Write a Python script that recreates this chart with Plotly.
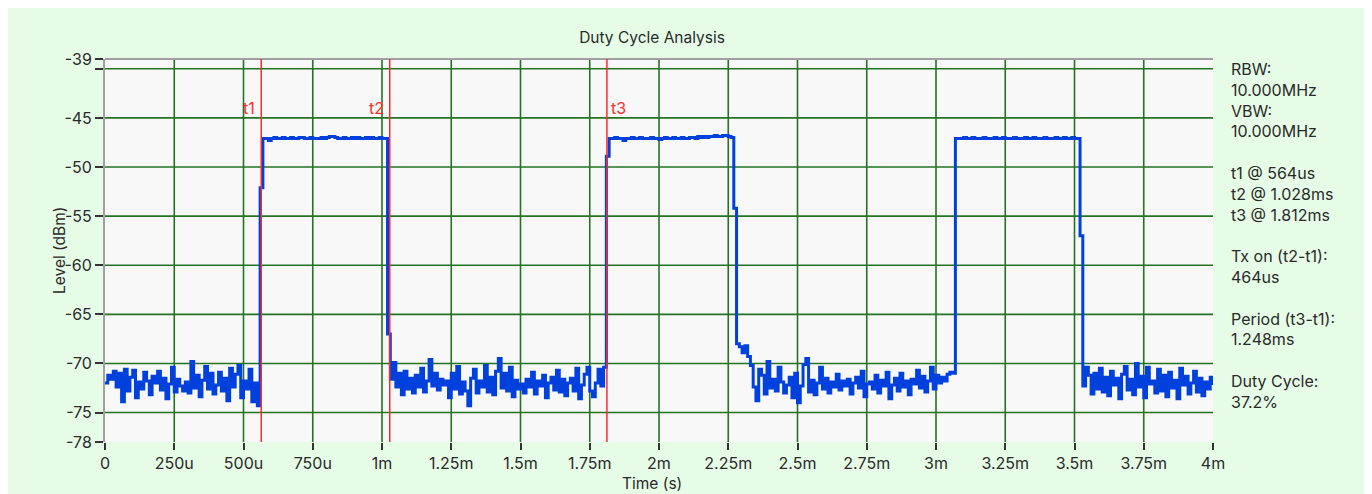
import numpy as np
import plotly.graph_objects as go

# sample spacing of the sweep, seconds
sample_step = 10e-6

# trace levels in dBm, split into the off / on parts of the sweep
noise_1 = [
    -72.0, -71.2, -71.6, -70.8, -72.4, -71.0, -73.9, -70.6, -72.8, -71.4,
    -70.7, -73.5, -71.9, -72.6, -70.9, -71.8, -73.2, -71.3, -72.0, -70.8,
    -72.7, -71.5, -73.6, -72.1, -70.4, -72.9, -71.6, -72.3, -72.8, -71.9,
    -73.0, -69.8, -72.5, -71.2, -73.4, -71.7, -70.3, -72.6, -71.0, -73.1,
    -72.2, -70.9, -72.8, -71.5, -73.8, -70.5, -72.4, -71.1, -70.2, -73.5,
    -71.8, -72.6, -70.6, -73.9, -72.0, -74.3,
]
pulse_1 = [
    -52.1, -47.1, -47.1, -47.3, -47.1, -47.0, -47.1, -47.1, -47.0, -47.1,
    -47.1, -47.0, -47.1, -47.1, -47.0, -47.0, -47.1, -47.1, -47.0, -47.1,
    -47.1, -47.1, -47.0, -47.1, -47.0, -46.9, -46.9, -47.0, -47.1, -47.1,
    -47.0, -47.1, -47.1, -47.0, -47.1, -47.0, -47.1, -47.1, -47.0, -47.1,
    -47.0, -47.1, -47.1, -47.0, -47.1, -47.1,
]
noise_2 = [
    -67.0, -71.6, -69.9, -72.4, -71.0, -73.2, -70.8, -72.6, -71.5, -73.0,
    -71.2, -72.4, -70.5, -72.9, -71.8, -69.6, -72.3, -71.0, -72.7, -71.6,
    -72.2, -71.8, -73.5, -71.0, -72.6, -70.3, -73.1, -71.9, -72.8, -74.3,
    -71.5, -70.6, -73.0, -71.8, -72.4, -70.2, -72.9, -71.4, -73.2, -70.8,
    -69.5, -72.5, -71.0, -72.8, -70.4, -73.4, -71.7, -72.6, -72.1, -73.0,
    -71.6, -72.4, -70.9, -73.1, -71.8, -72.3, -71.2, -73.5, -72.0, -71.4,
    -72.7, -70.7, -72.9, -71.6, -73.3, -72.0, -71.5, -72.8, -70.5, -73.6,
    -72.2, -71.1, -70.4, -72.8, -73.4, -72.0, -70.6, -72.3, -70.4,
]
pulse_2 = [
    -48.9, -47.1, -47.1, -47.0, -47.1, -47.1, -47.3, -47.1, -47.1, -47.0,
    -47.1, -47.1, -47.0, -47.1, -47.1, -47.1, -47.0, -47.1, -47.1, -47.2,
    -47.1, -47.0, -47.1, -47.1, -47.0, -47.1, -47.1, -47.0, -47.1, -47.1,
    -47.0, -47.0, -47.1, -46.9, -47.0, -46.9, -47.0, -46.9, -46.9, -46.8,
    -46.9, -46.9, -46.8, -46.8, -46.9, -47.0,
]
noise_3 = [
    -54.2, -68.0, -68.3, -68.9, -68.2, -69.3, -70.2, -72.4, -73.8, -70.6,
    -71.2, -73.1, -69.8, -72.5, -71.6, -72.8, -70.4, -71.9, -73.0, -72.2,
    -71.4, -73.5, -71.0, -74.0, -72.3, -70.1, -69.5, -72.9, -71.7, -73.2,
    -72.0, -70.4, -72.6, -71.5, -73.0, -71.9, -72.4, -71.1, -72.7, -71.8,
    -72.3, -71.6, -73.1, -72.0, -71.4, -72.5, -70.8, -73.4, -72.1, -71.9,
    -72.6, -71.2, -73.0, -71.7, -72.3, -70.9, -73.6, -72.2, -71.5, -72.8,
    -71.0, -72.4, -71.8, -73.2, -71.6, -72.1, -70.7, -72.5, -71.3, -72.9,
    -71.8, -70.4, -72.6, -71.2, -72.0, -71.4, -71.8, -71.1, -70.9, -71.0,
]
pulse_3 = [
    -47.1, -47.1, -47.1, -47.0, -47.1, -47.1, -47.0, -47.1, -47.1, -47.1,
    -47.0, -47.1, -47.1, -47.1, -47.0, -47.1, -47.1, -47.0, -47.1, -47.1,
    -47.1, -47.0, -47.1, -47.1, -47.1, -47.0, -47.1, -47.1, -47.0, -47.1,
    -47.1, -47.1, -47.0, -47.1, -47.1, -47.1, -47.0, -47.1, -47.1, -47.0,
    -47.1, -47.1, -47.0, -47.1, -47.1,
]
noise_4 = [
    -57.0, -72.3, -70.4, -71.2, -73.1, -71.0, -72.6, -70.5, -72.9, -71.4,
    -73.3, -70.8, -72.2, -71.5, -73.6, -71.1, -70.3, -72.7, -71.6, -73.2,
    -70.0, -72.4, -71.3, -73.5, -70.4, -72.1, -71.8, -73.0, -70.6, -72.8,
    -71.2, -73.4, -70.9, -72.5, -71.7, -73.6, -70.5, -72.2, -71.3, -73.1,
    -72.0, -70.8, -72.9, -71.5, -73.3, -71.9, -72.6, -71.4, -72.2,
]

# cursor markers
marker_names = ["t1", "t2", "t3"]
marker_times = [564e-6, 1.028e-3, 1.812e-3]

# axis ticks
x_tick_vals = [i * 250e-6 for i in range(17)]
x_tick_text = ["0", "250u", "500u", "750u", "1m", "1.25m", "1.5m", "1.75m", "2m",
               "2.25m", "2.5m", "2.75m", "3m", "3.25m", "3.5m", "3.75m", "4m"]
y_tick_vals = [-39, -40, -45, -50, -55, -60, -65, -70, -75, -78]
y_tick_text = ["-39", "", "-45", "-50", "-55", "-60", "-65", "-70", "-75", "-78"]
x_grid_vals = x_tick_vals[1:-1]
y_grid_vals = [-40, -45, -50, -55, -60, -65, -70, -75]

info_lines = [
    "RBW:", "10.000MHz", "VBW:", "10.000MHz", "",
    "t1 @ 564us", "t2 @ 1.028ms", "t3 @ 1.812ms", "",
    "Tx on (t2-t1):", "464us", "",
    "Period (t3-t1):", "1.248ms", "",
    "Duty Cycle:", "37.2%",
]

level = np.concatenate([noise_1, pulse_1, noise_2, pulse_2, noise_3, pulse_3, noise_4])
time = np.arange(len(level)) * sample_step

font_name = "Inter, Noto Sans, sans-serif"
text_color = "#2a2a2a"
grid_color = "#237323"
marker_color = "#ff2b2b"

fig = go.Figure()
fig.add_trace(
    go.Scatter(
        x=time,
        y=level,
        mode="lines",
        line=dict(color="#0040dd", width=3, shape="hv"),
        showlegend=False,
    )
)

# grid drawn as shapes so the plot edges stay clear
for gx in x_grid_vals:
    fig.add_shape(type="line", layer="below", xref="x", yref="paper",
                  x0=gx, x1=gx, y0=0, y1=1, line=dict(color=grid_color, width=1.6))
for gy in y_grid_vals:
    fig.add_shape(type="line", layer="below", xref="paper", yref="y",
                  x0=0, x1=1, y0=gy, y1=gy, line=dict(color=grid_color, width=1.6))

# top border
fig.add_shape(type="line", xref="paper", yref="paper", x0=0, x1=1, y0=1, y1=1,
              line=dict(color="#a0a0a0", width=2))

for name, t in zip(marker_names, marker_times):
    fig.add_shape(type="line", xref="x", yref="paper", x0=t, x1=t, y0=0, y1=1,
                  line=dict(color=marker_color, width=1.5))
    right_side = name == "t3"
    fig.add_annotation(
        x=t, y=-44, xref="x", yref="y", text=name, showarrow=False,
        xanchor="left" if right_side else "right", xshift=2 if right_side else -4,
        font=dict(color=marker_color, size=16, family=font_name),
    )

# info text on the right side
fig.add_annotation(
    x=1.0145, y=1.004, xref="paper", yref="paper",
    text="<br>".join(info_lines), showarrow=False,
    xanchor="left", yanchor="top", align="left",
    font=dict(color=text_color, size=16, family=font_name),
)

# axis titles
fig.add_annotation(x=-0.0515, y=0.5, xref="paper", yref="paper", text="Level (dBm)",
                   textangle=-90, showarrow=False,
                   font=dict(color=text_color, size=15.5, family=font_name))
fig.add_annotation(x=0.4937, y=-0.108, xref="paper", yref="paper", text="Time (s)",
                   showarrow=False, yanchor="middle",
                   font=dict(color=text_color, size=15.5, family=font_name))

fig.update_xaxes(
    range=[0, 4e-3],
    tickvals=x_tick_vals,
    ticktext=x_tick_text,
    ticks="outside",
    ticklen=7,
    tickwidth=1.5,
    tickcolor="#333333",
    showgrid=False,
    zeroline=False,
    showline=False,
    tickfont=dict(color=text_color, size=16, family=font_name),
)
fig.update_yaxes(
    range=[-78, -39],
    tickvals=y_tick_vals,
    ticktext=y_tick_text,
    ticks="outside",
    ticklen=8,
    tickwidth=1.5,
    tickcolor="#333333",
    showgrid=False,
    zeroline=False,
    showline=True,
    linecolor="#a0a0a0",
    linewidth=2,
    tickfont=dict(color=text_color, size=16, family=font_name),
)
fig.update_layout(
    width=1358,
    height=486,
    margin=dict(l=97, r=153, t=51, b=52),
    paper_bgcolor="#e6fce6",
    plot_bgcolor="#f8f8f8",
    title=dict(text="Duty Cycle Analysis", x=0.4937, xref="paper", xanchor="center",
               y=1 - 30 / 486, yanchor="middle",
               font=dict(color=text_color, size=15.5, family=font_name)),
    font=dict(family=font_name, color=text_color),
)

fig.write_html("out.html", config={"displayModeBar": False})
